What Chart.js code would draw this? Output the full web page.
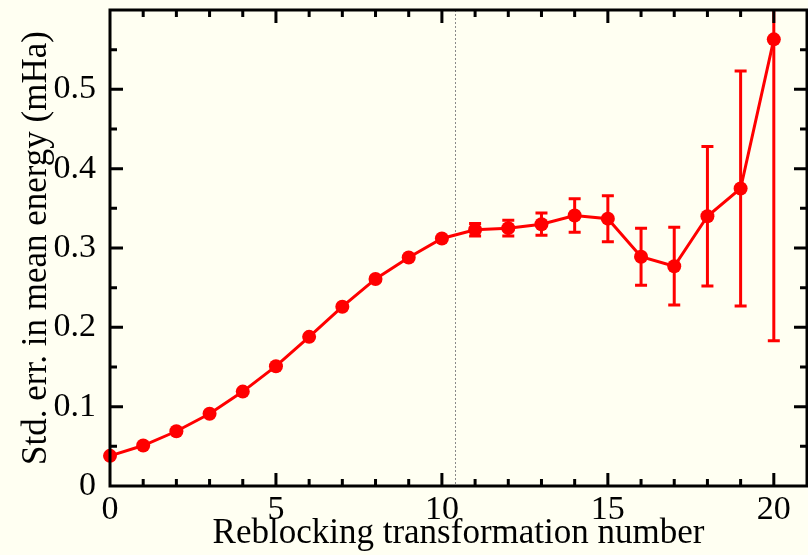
<!DOCTYPE html>
<html>
<head>
<meta charset="utf-8">
<script src="https://cdn.jsdelivr.net/npm/chart.js@4"></script>
<style>
  body { margin: 0; background: #fffff2; }
  canvas { display: block; }
</style>
</head>
<body>
<canvas id="graph" width="808" height="555"></canvas>
<script>
// reblocking data
const steps = [0, 1, 2, 3, 4, 5, 6, 7, 8, 9, 10, 11, 12, 13, 14, 15, 16, 17, 18, 19, 20];
const stdErr = [0.038, 0.051, 0.069, 0.091, 0.119, 0.151, 0.188, 0.226, 0.261, 0.288, 0.312, 0.323, 0.325, 0.330, 0.341, 0.337, 0.289, 0.277, 0.340, 0.375, 0.563];
const errBar = [0, 0, 0, 0, 0, 0, 0, 0, 0, 0, 0, 0.008, 0.010, 0.014, 0.021, 0.029, 0.036, 0.049, 0.088, 0.148, 0.380];
const xTicks = [0, 5, 10, 15, 20];
const yTicks = [0, 0.1, 0.2, 0.3, 0.4, 0.5];
const xMinor = [1, 2, 3, 4, 6, 7, 8, 9, 11, 12, 13, 14, 16, 17, 18, 19];
const yMinor = [0.05, 0.15, 0.25, 0.35, 0.45, 0.55];
const cutoff = 10.4;

const red = '#ff0000';
const serif = "'Liberation Serif', 'Times New Roman', serif";

const framePlugin = {
    id: 'frame',
    beforeDatasetsDraw(chart) {
        let ctx = chart.ctx;
        let xs = chart.scales.x, ys = chart.scales.y;
        let a = chart.chartArea;
        ctx.save();
        // dotted line at the plateau start
        ctx.strokeStyle = '#8a8a8a';
        ctx.lineWidth = 1;
        ctx.setLineDash([2, 2]);
        let cx = Math.round(xs.getPixelForValue(cutoff)) + 0.5;
        ctx.beginPath();
        ctx.moveTo(cx, a.top);
        ctx.lineTo(cx, a.bottom);
        ctx.stroke();
        ctx.setLineDash([]);

        // error bars
        ctx.beginPath();
        ctx.rect(a.left, a.top, a.right - a.left, a.bottom - a.top);
        ctx.clip();
        ctx.strokeStyle = red;
        ctx.lineWidth = 3;
        steps.forEach((s, i) => {
            if (!errBar[i]) return;
            let px = xs.getPixelForValue(s);
            let hi = ys.getPixelForValue(stdErr[i] + errBar[i]);
            let lo = ys.getPixelForValue(stdErr[i] - errBar[i]);
            ctx.beginPath();
            ctx.moveTo(px, hi); ctx.lineTo(px, lo);
            ctx.moveTo(px - 6, hi); ctx.lineTo(px + 6, hi);
            ctx.moveTo(px - 6, lo); ctx.lineTo(px + 6, lo);
            ctx.stroke();
        });
        ctx.restore();
    },
    afterDraw(chart) {
        let ctx = chart.ctx;
        let xs = chart.scales.x, ys = chart.scales.y;
        let a = chart.chartArea;
        ctx.save();
        ctx.strokeStyle = '#000';
        ctx.lineWidth = 3;
        ctx.beginPath();
        ctx.rect(a.left, a.top, a.right - a.left, a.bottom - a.top);
        // ticks point inward, on all four sides
        const tick = (vals, len) => {
            vals.forEach(v => {
                let px = xs.getPixelForValue(v);
                ctx.moveTo(px, a.bottom); ctx.lineTo(px, a.bottom - len);
                ctx.moveTo(px, a.top); ctx.lineTo(px, a.top + len);
            });
        };
        const ytick = (vals, len) => {
            vals.forEach(v => {
                let py = ys.getPixelForValue(v);
                ctx.moveTo(a.left, py); ctx.lineTo(a.left + len, py);
                ctx.moveTo(a.right, py); ctx.lineTo(a.right - len, py);
            });
        };
        tick(xTicks, 13);
        tick(xMinor, 7);
        ytick(yTicks, 13);
        ytick(yMinor, 7);
        ctx.stroke();
        ctx.restore();
    }
};

const bg = {
    id: 'bg',
    beforeDraw(chart) {
        let ctx = chart.ctx;
        ctx.save();
        ctx.fillStyle = '#fffff2';
        ctx.fillRect(0, 0, chart.width, chart.height);
        ctx.restore();
    }
};

const config = {
    type: 'scatter',
    data: {
        datasets: [{
            data: steps.map((s, i) => ({ x: s, y: stdErr[i] })),
            showLine: true,
            borderColor: red,
            borderWidth: 3,
            backgroundColor: red,
            pointBackgroundColor: red,
            pointBorderWidth: 0,
            pointRadius: 7,
            clip: false
        }]
    },
    options: {
        responsive: false,
        animation: false,
        events: [],
        layout: { autoPadding: false, padding: { top: 10, right: 1, left: 0, bottom: 0 } },
        plugins: { legend: { display: false }, tooltip: { enabled: false } },
        scales: {
            x: {
                type: 'linear',
                min: 0,
                max: 21,
                grid: { display: false },
                border: { display: false },
                afterBuildTicks: s => { s.ticks = xTicks.map(v => ({ value: v })); },
                afterFit: s => { s.height = 69; s.paddingLeft = 0; s.paddingRight = 0; },
                ticks: {
                    font: { family: serif, size: 34 },
                    color: '#000',
                    padding: -4,
                    maxRotation: 0,
                    callback: v => String(v)
                },
                title: {
                    display: true,
                    text: 'Reblocking transformation number',
                    font: { family: serif, size: 35 },
                    color: '#000',
                    padding: { top: 0, bottom: 0 }
                }
            },
            y: {
                min: 0,
                max: 0.6,
                grid: { display: false },
                border: { display: false },
                afterBuildTicks: s => { s.ticks = yTicks.map(v => ({ value: v })); },
                afterFit: s => { s.width = 110; s.paddingTop = 0; s.paddingBottom = 0; },
                ticks: {
                    font: { family: serif, size: 34 },
                    color: '#000',
                    padding: 6,
                    callback: v => v === 0 ? '0' : v.toFixed(1)
                },
                title: {
                    display: true,
                    text: 'Std. err. in mean energy (mHa)',
                    font: { family: serif, size: 35 },
                    color: '#000',
                    padding: { top: 16, bottom: 0 }
                }
            }
        }
    },
    plugins: [bg, framePlugin]
};

new Chart('graph', config);
</script>
</body>
</html>
